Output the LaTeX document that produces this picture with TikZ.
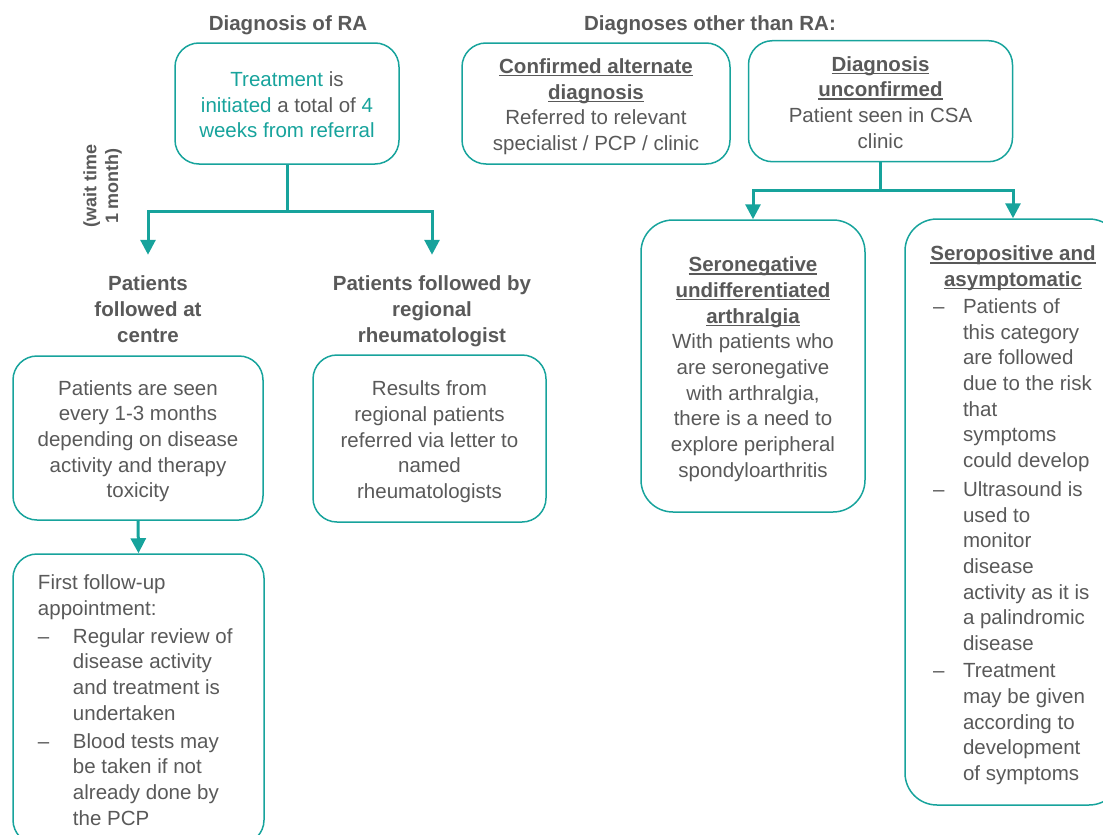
\documentclass[tikz,border=0pt]{standalone}
\usepackage{fontspec}
\setmainfont{Liberation Sans}
\usetikzlibrary{arrows.meta}
\definecolor{tl}{HTML}{17A39C}
\definecolor{txtgray}{HTML}{595959}
\newsavebox{\ulbox}
\newcommand{\ulin}[1]{\sbox{\ulbox}{#1}\rlap{\rule[-3pt]{\wd\ulbox}{1.4pt}}\usebox{\ulbox}}
\newcommand{\bodyfont}{\fontsize{20.5}{25.7}\selectfont\setbox\strutbox\hbox{\vrule height 21.35pt depth 4.35pt width 0pt}}
\newcommand{\waitfont}{\fontsize{18}{21}\selectfont\setbox\strutbox\hbox{\vrule height 18pt depth 3pt width 0pt}}
\tikzset{
  box/.style={draw=tl, line width=1.5pt, rounded corners=24pt, inner sep=0pt, text=txtgray, font=\bodyfont, align=center},
  hdr/.style={inner sep=0pt, text=txtgray, font=\bodyfont\bfseries, align=center},
  conn/.style={draw=tl, line width=3pt},
  arr/.style={draw=tl, line width=3pt, -{Triangle[width=15pt,length=15pt]}}
}
\begin{document}
\begin{tikzpicture}[x=1pt,y=-1pt]
\useasboundingbox (0,0) rectangle (1103,835);
\clip (0,0) rectangle (1103,835);
% titles
\node[hdr] (tRA) at (288,22) {\begin{tabular}{@{}c@{}}Diagnosis of RA\end{tabular}};
\node[hdr] (tOther) at (710,22) {\begin{tabular}{@{}c@{}}Diagnoses other than RA:\end{tabular}};
% left branch
\node[box, minimum width=224pt, minimum height=121pt] (b1) at (287,103.5)
  {\begin{tabular}{@{}c@{}}{\color{tl}Treatment} is\\ {\color{tl}initiated} a total of {\color{tl}4}\\ {\color{tl}weeks from referral}\end{tabular}};
\node[hdr, rotate=90, font=\waitfont\bfseries] (wait) at (100,186)
  {\begin{tabular}{@{}c@{}}(wait time\\ 1 month)\end{tabular}};
\node[hdr] (hA) at (148,308) {\begin{tabular}{@{}c@{}}Patients\\ followed at\\ centre\end{tabular}};
\node[hdr] (hB) at (432,308) {\begin{tabular}{@{}c@{}}Patients followed by\\ regional\\ rheumatologist\end{tabular}};
\node[box, minimum width=250pt, minimum height=164pt] (b2) at (138,438)
  {\begin{tabular}{@{}c@{}}Patients are seen\\ every 1-3 months\\ depending on disease\\ activity and therapy\\ toxicity\end{tabular}};
\node[box, minimum width=233pt, minimum height=167pt] (b3) at (429.5,438.5)
  {\begin{tabular}{@{}c@{}}Results from\\ regional patients\\ referred via letter to\\ named\\ rheumatologists\end{tabular}};
\node[box, minimum width=251pt, minimum height=290pt] (b4) at (138.5,699)
  {\begin{tabular}{@{}l@{}l@{}}
   \multicolumn{2}{@{}l@{}}{First follow-up}\\
   \multicolumn{2}{@{}l@{}}{appointment:}\\[2pt]
   \makebox[35pt][l]{–}&\makebox[166pt][l]{Regular review of}\\
   &disease activity\\
   &and treatment is\\
   &undertaken\\[2pt]
   –&Blood tests may\\
   &be taken if not\\
   &already done by\\
   &the PCP
   \end{tabular}};
% right branch
\node[box, minimum width=268pt, minimum height=121pt] (b5) at (596,103.5)
  {\begin{tabular}{@{}c@{}}\bfseries\ulin{Confirmed alternate}\\ \bfseries\ulin{diagnosis}\\ Referred to relevant\\ specialist / PCP / clinic\end{tabular}};
\node[box, minimum width=264pt, minimum height=121pt] (b6) at (880.5,101.2)
  {\begin{tabular}{@{}c@{}}\bfseries\ulin{Diagnosis}\\ \bfseries\ulin{unconfirmed}\\ Patient seen in CSA\\ clinic\end{tabular}};
\node[box, rounded corners=32pt, minimum width=224pt, minimum height=292pt] (b7) at (753,366)
  {\begin{tabular}{@{}c@{}}\bfseries\ulin{Seronegative}\\ \bfseries\ulin{undifferentiated}\\ \bfseries\ulin{arthralgia}\\
   With patients who\\ are seronegative\\ with arthralgia,\\ there is a need to\\ explore peripheral\\ spondyloarthritis\end{tabular}};
\node[box, rounded corners=32pt, minimum width=216pt, minimum height=586pt] (b8) at (1013,512)
  {\begin{tabular}{@{}l@{}l@{}}
   \multicolumn{2}{@{}c@{}}{\makebox[160pt][c]{\bfseries\ulin{Seropositive and}}}\\
   \multicolumn{2}{@{}c@{}}{\makebox[160pt][c]{\bfseries\ulin{asymptomatic}}}\\[1.5pt]
   \makebox[30pt][l]{–}&\makebox[130pt][l]{Patients of}\\
   &this category\\ &are followed\\ &due to the risk\\ &that\\ &symptoms\\ &could develop\\[3pt]
   –&Ultrasound is\\ &used to\\ &monitor\\ &disease\\ &activity as it is\\ &a palindromic\\ &disease\\[1.5pt]
   –&Treatment\\ &may be given\\ &according to\\ &development\\ &of symptoms
   \end{tabular}};
% connectors
\coordinate (j1) at (287,211);
\coordinate (j2) at (880.5,190.5);
\draw[conn] (b1.south) -- (j1);
\draw[arr, shorten >=14.5pt] (j1) -| (hA.north);
\draw[arr, shorten >=14.5pt] (j1) -| (hB.north);
\draw[arr] (b2.south) -- (b4.north);
\draw[conn] (b6.south) -- (j2);
\draw[arr] (j2) -| (b7.north);
\draw[arr] (j2) -| (b8.north);
\end{tikzpicture}
\end{document}
